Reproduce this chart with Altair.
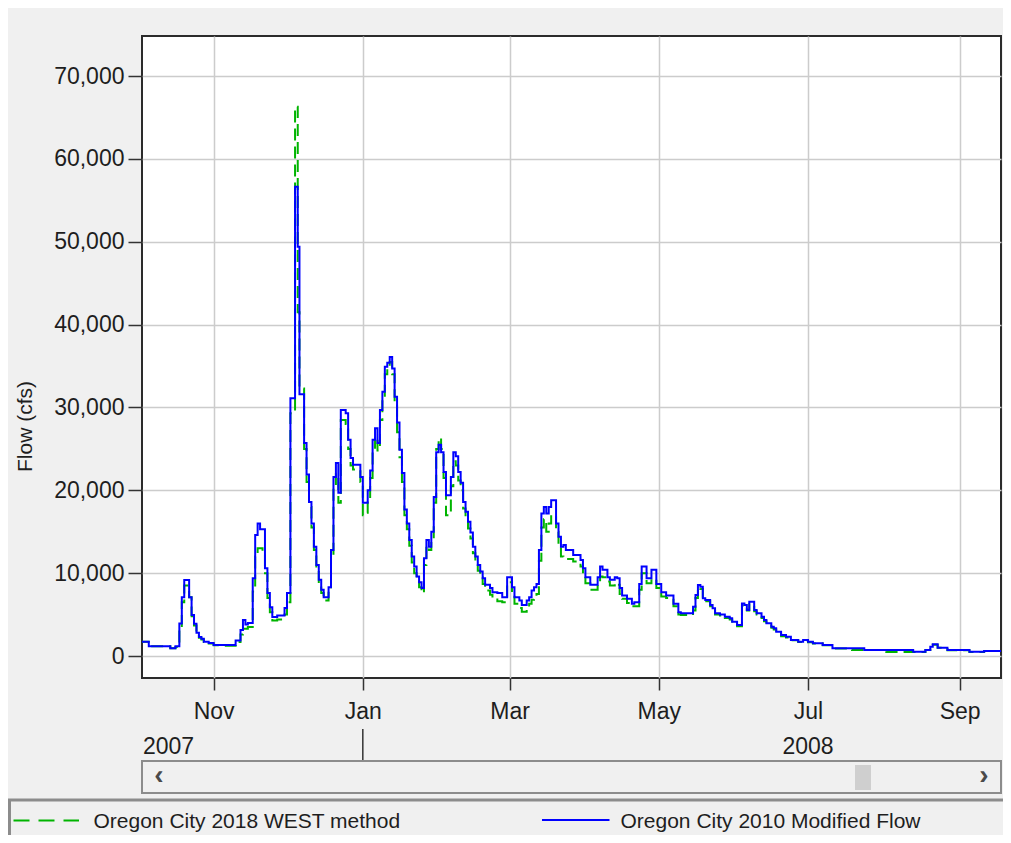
import altair as alt
import pandas as pd

FONT = "Liberation Sans"
TXT = "#1e1e1e"
W, H = 859, 642

# ---- data (day offsets from 2007-10-01, step values, cfs) ----
days = [0, 4.5, 13.3, 15.4, 17, 18, 19, 20, 21, 22,
        23, 24, 25, 26, 27, 29, 31, 36, 40, 42,
        43, 44, 45, 47, 48, 49, 50, 51, 52, 53,
        54, 55, 57, 59, 60, 61, 62.4, 64.3, 65.4, 66.1,
        68, 69, 70, 71, 72, 73, 74, 75, 76, 78,
        79, 80, 81, 82, 83, 85, 86, 87, 88, 91,
        92, 93, 94, 95, 96, 97, 98, 99, 100, 101,
        102, 103, 104, 105, 106, 107, 108, 109, 110, 111,
        112, 113, 114, 115, 116, 117, 118, 119, 120, 121,
        122, 123, 124, 125, 126, 128, 129, 130, 131, 132,
        133, 134, 135, 136, 137, 138, 139, 140, 141, 142,
        144, 145, 147, 149, 151, 153, 154, 156, 157, 159,
        160, 161, 162, 163, 164, 165, 166, 167, 168, 169,
        171, 172, 173, 174, 175, 178, 181, 182, 183, 185,
        188, 189, 190, 192, 193, 195, 196, 197, 198, 200,
        202, 203, 205, 206, 208, 210, 212, 214, 216, 219,
        221, 222, 227, 228, 229, 230, 231, 232, 234, 235,
        236, 238, 240, 242, 243, 245, 247, 248, 249, 250,
        252, 253, 255, 256, 257, 259, 260, 261, 263, 265,
        267, 270, 272, 274, 276, 280, 284, 292, 297, 306,
        317, 322, 324, 325, 327, 331, 340, 346, 354]

modified_flow = [1730, 1170, 930, 1170, 3940, 7100, 9170, 9170, 7100, 4950,
                 3900, 2800, 2300, 2100, 1730, 1570, 1330, 1330, 1880, 3130,
                 4340, 3800, 4000, 9400, 14600, 16000, 15300, 15300, 10600, 7600,
                 5900, 4700, 4900, 4900, 5800, 7600, 31100, 56650, 49400, 31600,
                 25700, 21900, 18600, 16000, 13200, 11000, 9200, 8000, 7100, 8300,
                 12800, 21600, 23300, 19700, 29700, 29300, 26100, 23900, 23100, 21600,
                 18500, 18500, 20000, 22400, 26100, 27500, 25700, 29700, 31900, 34900,
                 35400, 36100, 34700, 31300, 28200, 24900, 22100, 17700, 16000, 14000,
                 12000, 10800, 9600, 8900, 8200, 11800, 14000, 13200, 15000, 19200,
                 24600, 25500, 24600, 22200, 19400, 21600, 24600, 24100, 22200, 20900,
                 18600, 17400, 16200, 14900, 13200, 12000, 11000, 10200, 9400, 8600,
                 8200, 7700, 7600, 7100, 9500, 8300, 7100, 6700, 6150, 6700,
                 7100, 7900, 8300, 8700, 12800, 17200, 18000, 17200, 18000, 18800,
                 16000, 14400, 13200, 13400, 12800, 12200, 11600, 10600, 9500, 8600,
                 9500, 10800, 10400, 9500, 9200, 9500, 9400, 8200, 7300, 6900,
                 6300, 6500, 8700, 10800, 9400, 10400, 8700, 7700, 7300, 6300,
                 5300, 5150, 5950, 7360, 8570, 8370, 6960, 6760, 6160, 5760,
                 5150, 5000, 4750, 4550, 4140, 3740, 6350, 6160, 5550, 6560,
                 5550, 5150, 4750, 4350, 3950, 3540, 3340, 2930, 2530, 2330,
                 1930, 1730, 1930, 1730, 1530, 1330, 930, 930, 720, 720,
                 520, 720, 1120, 1410, 1000, 720, 520, 620, 620]

west_flow = [1730, 1170, 930, 1100, 3500, 6500, 8500, 8500, 7100, 4800,
             3700, 2700, 2200, 2000, 1700, 1500, 1300, 1250, 1700, 2600,
             3300, 3300, 3500, 7800, 12000, 13000, 13000, 12500, 10000, 7000,
             5300, 4300, 4400, 4500, 5000, 6500, 29300, 66300, 41500, 32300,
             25000, 21000, 18000, 15500, 12800, 10500, 8800, 7600, 6700, 7800,
             12000, 20500, 22000, 18500, 28500, 28000, 25000, 23000, 22500, 21000,
             17000, 17300, 19000, 21500, 25000, 26500, 24800, 28500, 31000, 34000,
             35000, 35500, 34000, 30500, 27000, 24000, 21000, 17000, 15300, 13300,
             11300, 10000, 9000, 8300, 7600, 11000, 13300, 12800, 14200, 18500,
             25000, 26300, 25000, 21500, 17000, 20500, 23500, 23000, 21200, 20000,
             17800, 16500, 15400, 14200, 12400, 11300, 10300, 9500, 8700, 7900,
             7400, 7000, 6600, 6500, 8900, 7500, 6300, 5800, 5350, 5800,
             6300, 6800, 7000, 7500, 11500, 15500, 16500, 15000, 16000, 17000,
             15000, 13300, 12000, 11700, 11700, 11400, 10800, 9800, 8800, 8000,
             8700, 9600, 9500, 9000, 8500, 8800, 8600, 7500, 6900, 6400,
             6000, 6000, 8000, 10000, 8800, 9300, 8200, 7200, 7000, 6000,
             5000, 4950, 5500, 7000, 8300, 8100, 6800, 6600, 6000, 5500,
             5000, 4900, 4600, 4400, 4000, 3600, 6100, 6000, 5500, 6300,
             5400, 5000, 4600, 4200, 3800, 3400, 3200, 2800, 2400, 2250,
             1900, 1700, 1850, 1650, 1500, 1300, 900, 730, 720, 500,
             500, 720, 1100, 1350, 1000, 700, 500, 620, 620]

series_names = ["Oregon City 2018 WEST method", "Oregon City 2010 Modified Flow"]
series_colors = ["#00b400", "#0000ff"]
y_ticks = [0, 10000, 20000, 30000, 40000, 50000, 60000, 70000]
month_ticks = [(2007, 11), (2008, 1), (2008, 3), (2008, 5), (2008, 7), (2008, 9)]
year_labels = ["2007", "2008"]
year_mid_date = "2008-07-01"
year_boundary_date = "2008-01-01"
y_title = "Flow (cfs)"

start = pd.Timestamp("2007-10-01")
df = pd.DataFrame({
    "date": start + pd.to_timedelta(days, unit="D"),
    "modified": modified_flow,
    "west": west_flow,
})

xscale = alt.Scale(domain=[alt.DateTime(year=2007, month=10, date=2, hours=17, minutes=30),
                           alt.DateTime(year=2008, month=9, date=17, hours=21, minutes=36)])
xaxis = alt.Axis(values=[alt.DateTime(year=y, month=m, date=1) for y, m in month_ticks],
                 format="%b", title=None, tickSize=12, labelPadding=28,
                 labelBaseline="alphabetic", labelFlush=False, labelOverlap=False,
                 labelFontSize=23)
yscale = alt.Scale(domain=[-2650, 74830], nice=False, zero=False)
yaxis = alt.Axis(values=y_ticks, format=",d", title=y_title, tickSize=14, labelPadding=4,
                 labelFlush=False, labelOverlap=False, labelFontSize=23,
                 titleFontSize=21, titleFontWeight="normal", titleColor=TXT, titleFont=FONT,
                 titleAngle=270, titleX=-117, titleY=390, titleAlign="center",
                 titleBaseline="middle")

X = alt.X("date:T", scale=xscale, axis=xaxis)

green = alt.Chart(df).mark_line(interpolate="step-after", color=series_colors[0],
                                strokeWidth=2, strokeDash=[12, 6], clip=True).encode(
    x=X, y=alt.Y("west:Q", scale=yscale, axis=yaxis))
blue = alt.Chart(df).mark_line(interpolate="step-after", color=series_colors[1],
                               strokeWidth=2, clip=True).encode(
    x=X, y=alt.Y("modified:Q", scale=yscale, axis=yaxis))

# year row
y2007 = alt.Chart(pd.DataFrame({"label": [year_labels[0]]})).mark_text(
    align="left", baseline="alphabetic", font=FONT, fontSize=23, color=TXT).encode(
    x=alt.value(1), y=alt.value(718), text="label:N")
y2008 = alt.Chart(pd.DataFrame({"date": [pd.Timestamp(year_mid_date)], "label": [year_labels[1]]})).mark_text(
    align="center", baseline="alphabetic", font=FONT, fontSize=23, color=TXT).encode(
    x=X, y=alt.value(718), text="label:N")
yboundary = alt.Chart(pd.DataFrame({"date": [pd.Timestamp(year_boundary_date)]})).mark_rule(
    color="#333333", strokeWidth=1.5).encode(x=X, y=alt.value(693), y2=alt.value(725))

one = pd.DataFrame({"k": [0]})
# scroll bar
scroll = alt.Chart(one).mark_rect(fill="#f0f0f0", stroke="#8c8c8c", strokeWidth=2).encode(
    x=alt.value(0), x2=alt.value(W), y=alt.value(725), y2=alt.value(757))
thumb = alt.Chart(one).mark_rect(fill="#cfcfcf").encode(
    x=alt.value(713), x2=alt.value(729), y=alt.value(729), y2=alt.value(754))
larrow = alt.Chart(one).mark_text(text="\u2039", font=FONT, fontSize=28, fontWeight="bold",
                                  color="#4a4a4a", baseline="middle").encode(
    x=alt.value(17), y=alt.value(740))
rarrow = alt.Chart(one).mark_text(text="\u203a", font=FONT, fontSize=28, fontWeight="bold",
                                  color="#4a4a4a", baseline="middle").encode(
    x=alt.value(842), y=alt.value(740))

# legend
legbox = alt.Chart(one).mark_rect(fill="#f0f0f0", stroke="#8c8c8c", strokeWidth=3).encode(
    x=alt.value(-132.5), x2=alt.value(880), y=alt.value(764), y2=alt.value(830))
leg1sym = alt.Chart(one).mark_rule(color=series_colors[0], strokeWidth=2, strokeDash=[16, 9]).encode(
    x=alt.value(-128.5), x2=alt.value(-63), y=alt.value(784.5))
leg2sym = alt.Chart(one).mark_rule(color=series_colors[1], strokeWidth=2).encode(
    x=alt.value(400), x2=alt.value(467.5), y=alt.value(784))
leg1txt = alt.Chart(pd.DataFrame({"label": [series_names[0]]})).mark_text(
    align="left", baseline="alphabetic", font=FONT, fontSize=21, color=TXT).encode(
    x=alt.value(-48.5), y=alt.value(792), text="label:N")
leg2txt = alt.Chart(pd.DataFrame({"label": [series_names[1]]})).mark_text(
    align="left", baseline="alphabetic", font=FONT, fontSize=21, color=TXT).encode(
    x=alt.value(478.5), y=alt.value(792), text="label:N")

chart = alt.layer(
    green, blue, y2007, y2008, yboundary, scroll, thumb, larrow, rarrow,
    legbox, leg1sym, leg2sym, leg1txt, leg2txt
).properties(
    width=W, height=H,
    autosize=alt.AutoSizeParams(type="none"),
    padding={"left": 134, "top": 28, "right": 2, "bottom": 157},
).configure(
    background="#f0f0f0", font=FONT
).configure_view(
    fill="white", stroke="#2b2b2b", strokeWidth=2
).configure_axis(
    labelFont=FONT, labelColor=TXT, domain=False, tickColor="#333333", tickWidth=1.5,
    gridColor="#cccccc", gridWidth=1.5
)

chart.save("out.html", embed_options={"renderer": "svg", "actions": False})
